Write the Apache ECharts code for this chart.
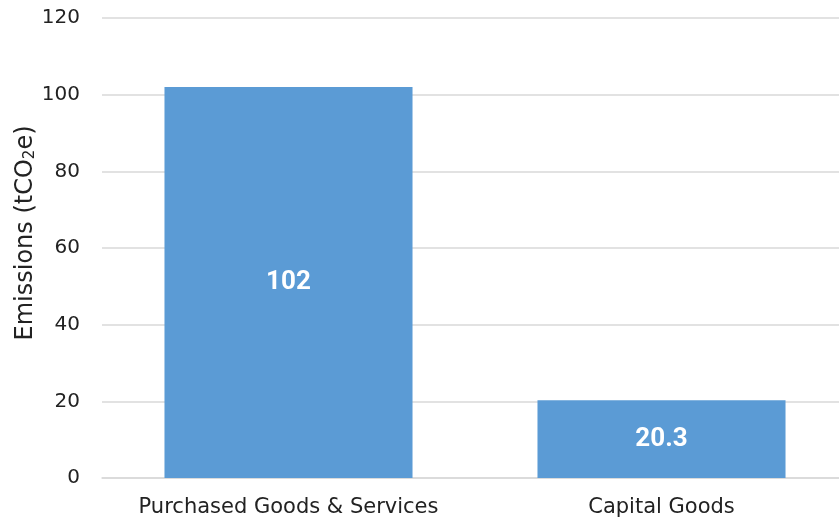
<!DOCTYPE html>
<html>
<head>
<meta charset="utf-8">
<script src="https://cdn.jsdelivr.net/npm/echarts@6/dist/echarts.min.js"></script>
<style>
  html, body { margin: 0; padding: 0; background: #fff; overflow: hidden; }
  #chart { width: 839px; height: 521px; }
</style>
</head>
<body>
<div id="chart"></div>
<script>
// Scope 3 emission categories and their totals (tCO2e)
const categories = ['Purchased Goods & Services', 'Capital Goods'];
const emissions = [102, 20.3];
const yTicks = [0, 20, 40, 60, 80, 100, 120];

const FONT = '"DejaVu Sans", sans-serif';
const LABEL_FONT = 'Roboto, "Liberation Sans", sans-serif';

const chart = echarts.init(document.getElementById('chart'));
chart.setOption({
  animation: false,
  textStyle: { fontFamily: FONT },
  // plot area runs slightly past the right edge of the canvas
  grid: { left: 102, top: 18, width: 746, height: 460, outerBoundsMode: 'none', containLabel: false },
  xAxis: {
    type: 'category',
    data: categories,
    axisTick: { show: false },
    axisLine: { lineStyle: { color: '#d9d9d9', width: 1.5 } },
    axisLabel: { color: '#222', fontSize: 21, fontFamily: FONT, margin: 19, interval: 0, hideOverlap: false }
  },
  yAxis: {
    type: 'value',
    min: yTicks[0],
    max: yTicks[yTicks.length - 1],
    interval: 20,
    name: 'Emissions (tCO{sub|2}e)',
    nameLocation: 'middle',
    nameGap: 64,
    nameMoveOverlap: false,
    nameRotate: 90,
    nameTextStyle: {
      color: '#222', fontSize: 24, fontFamily: FONT,
      padding: [0, 0, 0, 30],
      rich: { sub: { fontSize: 15, verticalAlign: 'bottom', padding: [10, 0, 0, 0], color: '#222', fontFamily: FONT } }
    },
    axisLine: { show: false },
    axisTick: { show: false },
    axisLabel: { color: '#222', fontSize: 20, fontFamily: FONT, margin: 22 },
    splitLine: { lineStyle: { color: '#d9d9d9', width: 1.5 } }
  },
  series: [{
    type: 'bar',
    data: emissions,
    barWidth: '66.5%',
    itemStyle: { color: '#5b9bd5' },
    label: {
      show: true,
      position: 'inside',
      color: '#fff',
      fontSize: 26,
      fontWeight: 'bold',
      fontFamily: LABEL_FONT
    }
  }]
});
</script>
</body>
</html>
